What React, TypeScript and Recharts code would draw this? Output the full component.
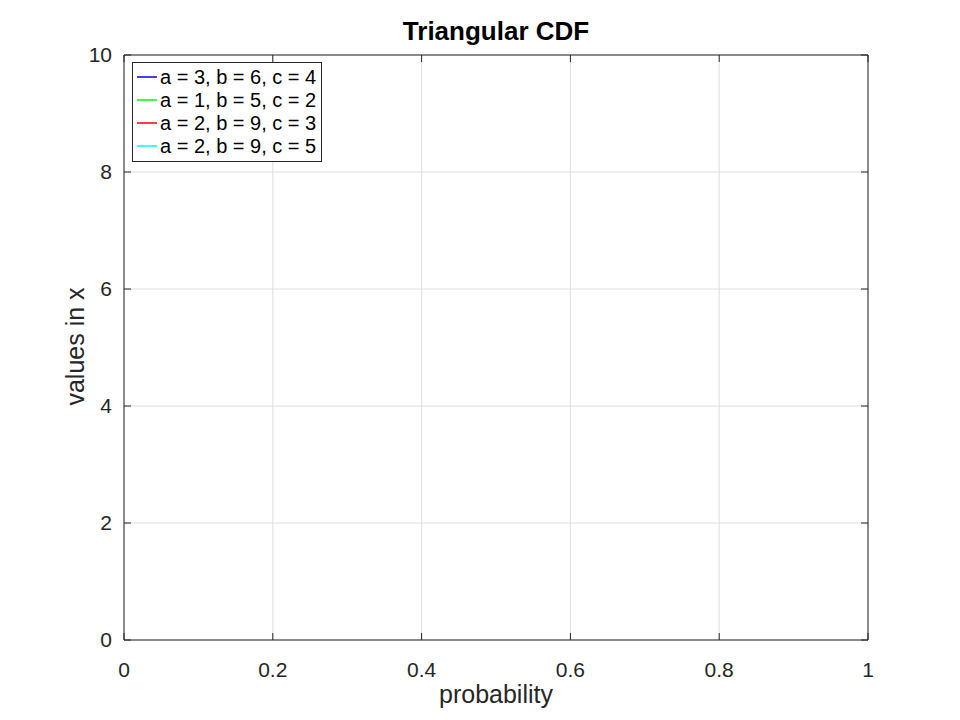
import React from 'react';
import { LineChart, Line, XAxis, YAxis, CartesianGrid, Legend } from 'recharts';

// x sample points (values in x) and triangular CDF values per series
const xValues = [1, 2, 3, 4, 5, 6, 7, 8, 9, 10];
const cdfA3B6C4 = [0, 0, 0, 0.3333, 0.8333, 1, 1, 1, 1, 1];
const cdfA1B5C2 = [0, 0.25, 0.6667, 0.9167, 1, 1, 1, 1, 1, 1];
const cdfA2B9C3 = [0, 0, 0.1429, 0.4048, 0.619, 0.7857, 0.9048, 0.9762, 1, 1];
const cdfA2B9C5 = [0, 0, 0.0476, 0.1905, 0.4286, 0.6786, 0.8571, 0.9643, 1, 1];

const seriesNames = ['a = 3, b = 6, c = 4', 'a = 1, b = 5, c = 2', 'a = 2, b = 9, c = 3', 'a = 2, b = 9, c = 5'];
const seriesKeys = ['s1', 's2', 's3', 's4'];
const seriesColors = ['#0000ff', '#00ff00', '#ff0000', '#00ffff'];

const xTicks = [0, 0.2, 0.4, 0.6, 0.8, 1];
const yTicks = [0, 2, 4, 6, 8, 10];

const titleText = 'Triangular CDF';
const xLabelText = 'probability';
const yLabelText = 'values in x';

const data = xValues.map((x, i) => ({
  x,
  s1: cdfA3B6C4[i],
  s2: cdfA1B5C2[i],
  s3: cdfA2B9C3[i],
  s4: cdfA2B9C5[i],
}));

const FONT = "'Liberation Sans', Arial, sans-serif";
const INK = '#262626';
const TICK_LEN = 7;

const BottomTick = (props: any) => {
  const { x, y, payload } = props;
  return (
    <g>
      <line x1={x} y1={y} x2={x} y2={y - TICK_LEN} stroke={INK} strokeWidth={1} />
      <text x={x} y={y + 37} textAnchor="middle" fontFamily={FONT} fontSize={21} fill={INK}>
        {String(payload.value)}
      </text>
    </g>
  );
};

const TopTick = (props: any) => {
  const { x, y } = props;
  return <line x1={x} y1={y} x2={x} y2={y + TICK_LEN} stroke={INK} strokeWidth={1} />;
};

const LeftTick = (props: any) => {
  const { x, y, payload } = props;
  return (
    <g>
      <line x1={x} y1={y} x2={x + TICK_LEN} y2={y} stroke={INK} strokeWidth={1} />
      <text x={x - 12} y={y} dy="0.34em" textAnchor="end" fontFamily={FONT} fontSize={21} fill={INK}>
        {String(payload.value)}
      </text>
    </g>
  );
};

const RightTick = (props: any) => {
  const { x, y } = props;
  return <line x1={x} y1={y} x2={x - TICK_LEN} y2={y} stroke={INK} strokeWidth={1} />;
};

const XLabel = (props: any) => {
  const vb = props.viewBox;
  return (
    <text x={vb.x + vb.width / 2} y={vb.y + 63} textAnchor="middle" fontFamily={FONT} fontSize={25} fill={INK}>
      {xLabelText}
    </text>
  );
};

const YLabel = (props: any) => {
  const vb = props.viewBox;
  const cx = vb.x + vb.width - 40;
  const cy = vb.y + vb.height / 2 - 1;
  return (
    <text x={cx} y={cy} textAnchor="middle" fontFamily={FONT} fontSize={25} fill={INK} transform={`rotate(-90, ${cx}, ${cy})`}>
      {yLabelText}
    </text>
  );
};

const TitleLabel = (props: any) => {
  const vb = props.viewBox;
  return (
    <text x={vb.x + vb.width / 2} y={vb.y + vb.height - 15} textAnchor="middle" fontFamily={FONT} fontSize={26} fontWeight="bold" fill="#000">
      {titleText}
    </text>
  );
};

const LegendBox = (props: any) => {
  const payload = [...(props.payload || [])].sort(
    (p: any, q: any) => seriesNames.indexOf(String(p.value)) - seriesNames.indexOf(String(q.value))
  );
  return (
    <div
      style={{
        border: `1px solid ${INK}`,
        background: '#fff',
        width: 190,
        height: 100,
        boxSizing: 'border-box',
        padding: '3px 0 0 4px',
        fontFamily: FONT,
      }}
    >
      {payload.map((entry: any, i: number) => (
        <div key={i} style={{ display: 'flex', alignItems: 'center', height: 23 }}>
          <svg width={20} height={23} style={{ marginRight: 3, display: 'block' }}>
            <line x1={0} y1={11} x2={20} y2={11} stroke={entry.color} strokeWidth={1.5} strokeOpacity={1} />
          </svg>
          <span style={{ fontSize: 20, lineHeight: '23px', color: '#000', whiteSpace: 'pre' }}>{entry.value}</span>
        </div>
      ))}
    </div>
  );
};

export default function App() {
  return (
    <div style={{ position: 'absolute', left: 0, top: 0, width: 960, height: 720, background: '#fff', fontFamily: FONT }}>
      <LineChart width={960} height={720} data={data} margin={{ top: 54, left: 123, right: 91, bottom: 79 }}>
        <CartesianGrid stroke="#dedede" strokeWidth={1} />
        <XAxis
          dataKey="x"
          type="number"
          domain={[0, 1]}
          allowDataOverflow
          ticks={xTicks}
          height={1}
          tickSize={0}
          tickMargin={0}
          tickLine={false}
          tick={<BottomTick />}
          axisLine={{ stroke: INK, strokeWidth: 1 }}
          label={<XLabel />}
        />
        <XAxis
          xAxisId="top"
          orientation="top"
          dataKey="x"
          type="number"
          domain={[0, 1]}
          allowDataOverflow
          ticks={xTicks}
          height={1}
          tickSize={0}
          tickMargin={0}
          tickLine={false}
          tick={<TopTick />}
          axisLine={{ stroke: INK, strokeWidth: 1 }}
          label={<TitleLabel />}
        />
        <YAxis
          type="number"
          domain={[0, 10]}
          allowDataOverflow
          ticks={yTicks}
          width={1}
          tickSize={0}
          tickMargin={0}
          tickLine={false}
          tick={<LeftTick />}
          axisLine={{ stroke: INK, strokeWidth: 1 }}
          label={<YLabel />}
        />
        <YAxis
          yAxisId="right"
          orientation="right"
          type="number"
          domain={[0, 10]}
          allowDataOverflow
          ticks={yTicks}
          width={1}
          tickSize={0}
          tickMargin={0}
          tickLine={false}
          tick={<RightTick />}
          axisLine={{ stroke: INK, strokeWidth: 1 }}
        />
        {seriesKeys.map((k, i) => (
          <Line
            key={k}
            dataKey={k}
            name={seriesNames[i]}
            stroke={seriesColors[i]}
            strokeWidth={1}
            dot={false}
            activeDot={false}
            legendType="line"
            isAnimationActive={false}
          />
        ))}
        <Legend
          layout="vertical"
          align="center"
          verticalAlign="middle"
          content={<LegendBox />}
          wrapperStyle={{ position: 'absolute', left: 132, top: 62, width: 190, height: 100, margin: 0 }}
        />
      </LineChart>
    </div>
  );
}
